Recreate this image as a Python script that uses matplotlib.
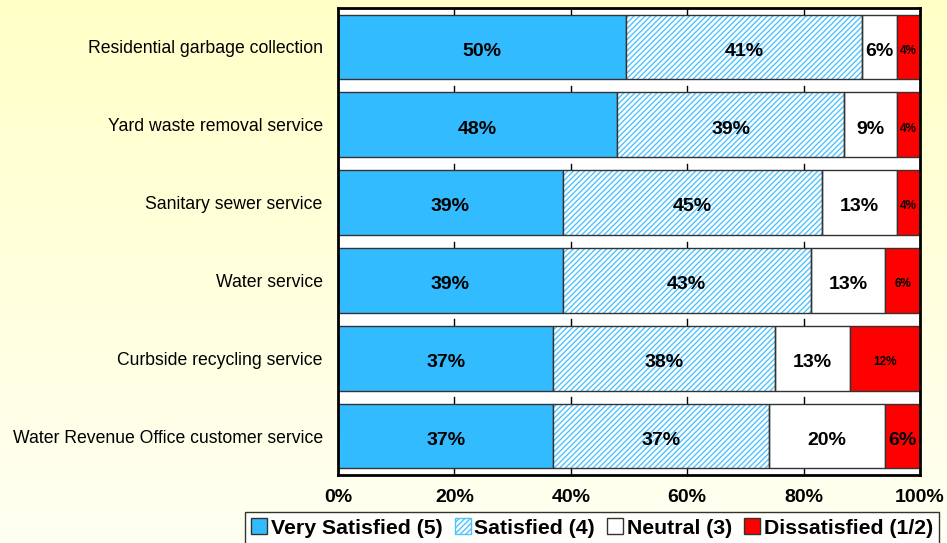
import numpy as np
import matplotlib
matplotlib.use("Agg")
import matplotlib.pyplot as plt
from matplotlib.patches import Patch

plt.rcParams['font.family'] = ['Liberation Sans', 'DejaVu Sans']
plt.rcParams['hatch.linewidth'] = 1.0

# survey data (percent)
services = [
    "Residential garbage collection",
    "Yard waste removal service",
    "Sanitary sewer service",
    "Water service",
    "Curbside recycling service",
    "Water Revenue Office customer service",
]
very_satisfied = [50, 48, 39, 39, 37, 37]
satisfied = [41, 39, 45, 43, 38, 37]
neutral = [6, 9, 13, 13, 13, 20]
dissatisfied = [4, 4, 4, 6, 12, 6]

series_names = ["Very Satisfied (5)", "Satisfied (4)", "Neutral (3)", "Dissatisfied (1/2)"]
xticks = [0, 20, 40, 60, 80, 100]

BLUE = '#33BBFF'
HATCH = '#4DC3FF'
RED = '#FF0000'
EDGE = '#333333'

data = np.array([very_satisfied, satisfied, neutral, dissatisfied], dtype=float)
shares = data / data.sum(axis=0) * 100  # rows sum to 100 on the bar
y = np.arange(len(services))
h = 0.83

fig = plt.figure(figsize=(9.47, 5.43), dpi=100)

# pale yellow gradient background
bg = fig.add_axes([0, 0, 1, 1], zorder=-10)
grad = np.linspace(0, 1, 256)[:, None, None]
top = np.array([1.0, 1.0, 0.78])
bot = np.array([1.0, 1.0, 0.95])
img = top * (1 - grad) + bot * grad
bg.imshow(np.repeat(img, 2, axis=1), aspect='auto', extent=[0, 1, 0, 1])
bg.axis('off')

ax = fig.add_axes([338 / 947, 1 - 475 / 543, (920 - 338) / 947, (475 - 8) / 543])
ax.set_facecolor('white')

left = np.zeros(len(services))
# very satisfied
ax.barh(y, shares[0], left=left, height=h, color=BLUE, edgecolor=EDGE, lw=1, zorder=2)
left += shares[0]
# satisfied: hatch layer then outline
ax.barh(y, shares[1], left=left, height=h, color='white', edgecolor=HATCH, hatch='//////', lw=0, zorder=2)
ax.barh(y, shares[1], left=left, height=h, color='none', edgecolor=EDGE, lw=1, zorder=3)
left += shares[1]
ax.barh(y, shares[2], left=left, height=h, color='white', edgecolor=EDGE, lw=1, zorder=2)
left += shares[2]
ax.barh(y, shares[3], left=left, height=h, color=RED, edgecolor=EDGE, lw=1, zorder=2)

# value labels
starts = np.vstack([np.zeros(len(services)), np.cumsum(shares, axis=0)[:-1]])
for k in range(4):
    for i in range(len(services)):
        cx = starts[k, i] + shares[k, i] / 2
        small = (k == 3 and i != len(services) - 1)
        ax.text(cx, y[i] + 0.03, f"{data[k, i]:.0f}%", ha='center', va='center_baseline',
                fontsize=8.5 if small else 14, fontweight='bold', color='black', zorder=5)

# little tick marks in the gaps between bars
for x in xticks[1:-1]:
    for i in range(len(services)):
        ax.plot([x, x], [i - 0.5, i - h / 2], color='black', lw=1, zorder=1)
    ax.plot([x, x], [len(services) - 1 + h / 2, len(services) - 0.5], color='black', lw=1, zorder=1)

ax.set_xlim(0, 100)
ax.set_ylim(len(services) - 0.5, -0.5)
ax.set_yticks(y)
ax.set_yticklabels(services, fontsize=12.7)
ax.set_xticks(xticks)
ax.set_xticklabels([f"{t}%" for t in xticks], fontsize=14, fontweight='bold')
ax.tick_params(axis='y', length=0, pad=11)
ax.tick_params(axis='x', length=0, pad=10)
for s in ax.spines.values():
    s.set_linewidth(2)
    s.set_color('black')

handles = [
    Patch(facecolor=BLUE, edgecolor=EDGE),
    Patch(facecolor='white', edgecolor=HATCH, hatch='//////'),
    Patch(facecolor='white', edgecolor=EDGE),
    Patch(facecolor=RED, edgecolor=EDGE),
]
leg = fig.legend(handles, series_names, loc='upper center', bbox_to_anchor=(592 / 947, 1 - 512 / 543),
                 ncol=4, frameon=True, fancybox=False, handlelength=0.75, handleheight=0.75,
                 handletextpad=0.15, columnspacing=0.6, borderpad=0.3, borderaxespad=0,
                 prop={'weight': 'bold', 'size': 15.3})
leg.get_frame().set_edgecolor('black')
leg.get_frame().set_linewidth(1)

fig.savefig('out.png', dpi=100)
